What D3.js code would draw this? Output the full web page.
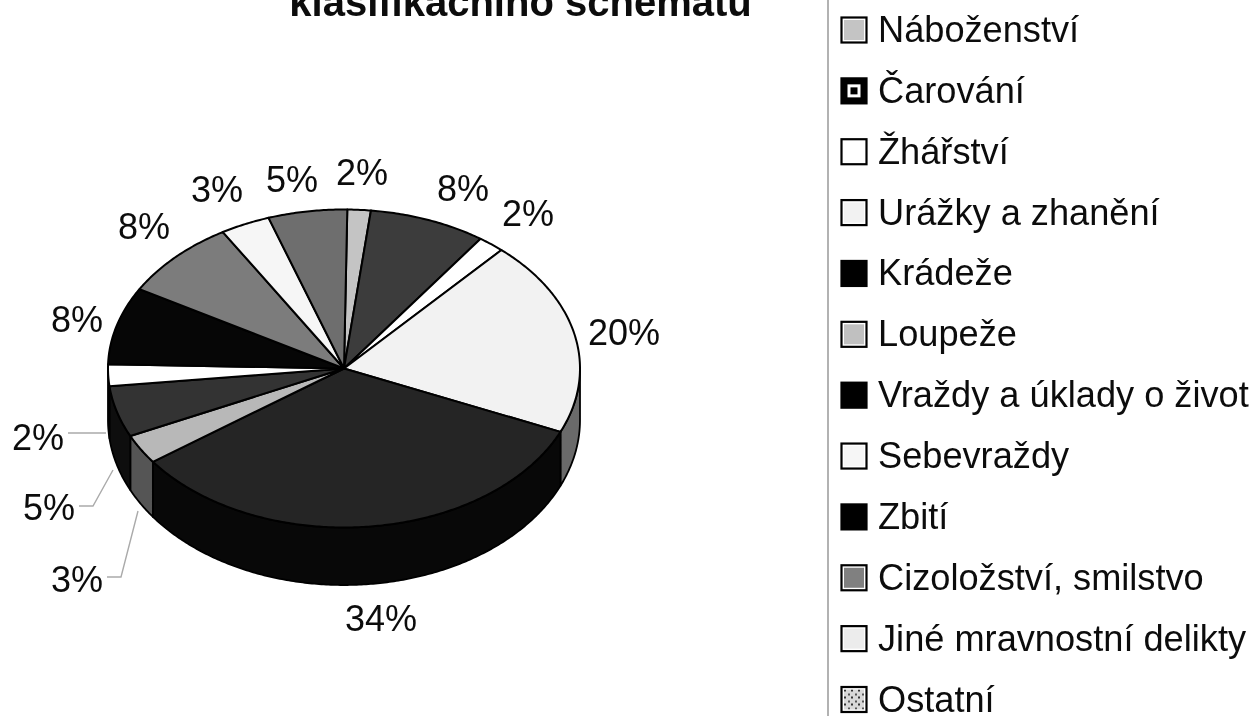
<!DOCTYPE html>
<html><head><meta charset="utf-8">
<script src="https://cdn.jsdelivr.net/npm/d3@7/dist/d3.min.js"></script>
<style>html,body{margin:0;background:#fff}svg{display:block;filter:blur(0.45px)}text{font-family:"Liberation Sans",Arial,sans-serif;fill:#0c0c0c}</style>
</head><body><svg id="c" width="1256" height="716"></svg>
<script>
const categories=["Náboženství","Čarování","Žhářství","Urážky a zhanění","Krádeže","Loupeže","Vraždy a úklady o život","Sebevraždy","Zbití","Cizoložství, smilstvo","Jiné mravnostní delikty","Ostatní"];
const shares=[1.6,8,1.8,19.9,33.5,3,5.2,2.2,7.9,8.1,3.4,5.4];
const topColors=["#c4c4c4","#3c3c3c","#ffffff","#f2f2f2","#252525","#b8b8b8","#333333","#ffffff","#060606","#7c7c7c","#f6f6f6","#6e6e6e"];
const sideColors=["#888","#222","#bbb","#6a6a6a","#080808","#555555","#0e0e0e","#bbb","#030303","#444","#aaa","#444"];
const swatchColors=["#c4c4c4","#000","#fff","#f2f2f2","#000","#c0c0c0","#000","#f6f6f6","#000","#808080","#ececec","url(#speck)"];
const labelAnchors=[[362,185],[463,201],[528,226],[624,345],[381,631],[77,592],[49,520],[38,450],[77,332],[144,239],[217,202],[292,192]];
const leaders=[[[107,577],[121,577],[138,511]],[[79,506],[93,506],[113,470]],[[68,433],[106,433]]];
const svg=d3.select("#c");
const defs=svg.append("defs");
const pat=defs.append("pattern").attr("id","speck").attr("patternUnits","userSpaceOnUse").attr("width",7).attr("height",7);
pat.append("rect").attr("width",7).attr("height",7).attr("fill","#d8d8d8");
pat.append("rect").attr("x",1).attr("y",1).attr("width",2).attr("height",2).attr("fill","#555");
pat.append("rect").attr("x",4).attr("y",4).attr("width",2).attr("height",2).attr("fill","#333");
const cx=344,cy=368.5,rx=236,ry=159,cyBase=420,ryBase=165;
const px=a=>cx+rx*Math.sin(a), py=a=>cy-ry*Math.cos(a), pyBase=a=>cyBase-ryBase*Math.cos(a);
const startA=0.8*Math.PI/180;
const arcs=d3.pie().sort(null).startAngle(startA).endAngle(startA+2*Math.PI)(shares);
const line=d3.line();
const sample=(a,b)=>{const n=Math.max(2,Math.ceil(Math.abs(b-a)/0.01));return d3.range(n+1).map(i=>a+(b-a)*i/n)};
// side walls
const lo=Math.PI/2,hi=3*Math.PI/2;
arcs.forEach((d,i)=>{
  const a=Math.max(d.startAngle,lo),b=Math.min(d.endAngle,hi);
  if(b<=a)return;
  const s=sample(a,b);
  const pts=[...s.map(t=>[px(t),py(t)]),...s.slice().reverse().map(t=>[px(t),pyBase(t)])];
  svg.append("path").attr("d",line(pts)+"Z").attr("fill",sideColors[i]).attr("stroke","#000").attr("stroke-width",1.8).attr("stroke-linejoin","round");
});
// top slices
arcs.forEach((d,i)=>{
  const pts=[[cx,cy],...sample(d.startAngle,d.endAngle).map(t=>[px(t),py(t)])];
  svg.append("path").attr("d",line(pts)+"Z").attr("fill",topColors[i]).attr("stroke","#000").attr("stroke-width",2).attr("stroke-linejoin","round");
});
// percentage labels
shares.forEach((v,i)=>{
  svg.append("text").attr("x",labelAnchors[i][0]).attr("y",labelAnchors[i][1]).attr("text-anchor","middle").attr("font-size",36).text(Math.round(v)+"%");
});
leaders.forEach(p=>svg.append("path").attr("d",line(p)).attr("fill","none").attr("stroke","#aaa").attr("stroke-width",1.4));
// title, clipped by the top of the page as in the scan
svg.append("text").attr("x",520.5).attr("y",16).attr("text-anchor","middle").attr("font-size",40).attr("font-weight","bold").text("klasifikačního schématu");
// legend
svg.append("line").attr("x1",828).attr("x2",828).attr("y1",0).attr("y2",716).attr("stroke","#999").attr("stroke-width",1.5);
const legendY=d3.scalePoint().domain(categories).range([30,699.5]);
const g=svg.selectAll("g.leg").data(categories).join("g").attr("class","leg").attr("transform",d=>`translate(0,${legendY(d)})`);
g.append("rect").attr("x",841.5).attr("y",-12.5).attr("width",25).attr("height",25).attr("fill",(d,i)=>swatchColors[i]==="#000"?"#000":"#fff").attr("stroke","#000").attr("stroke-width",2.2);
g.append("rect").attr("x",844).attr("y",-10).attr("width",20).attr("height",20).attr("fill",(d,i)=>swatchColors[i]);
g.filter((d,i)=>i===1).append("rect").attr("x",847.5).attr("y",-6.5).attr("width",13).attr("height",13).attr("fill","#fff");
g.filter((d,i)=>i===1).append("rect").attr("x",850.5).attr("y",-3.5).attr("width",7).attr("height",7).attr("fill","#000");
g.append("text").attr("x",878).attr("y",12).attr("font-size",36.2).text(d=>d);
</script></body></html>
